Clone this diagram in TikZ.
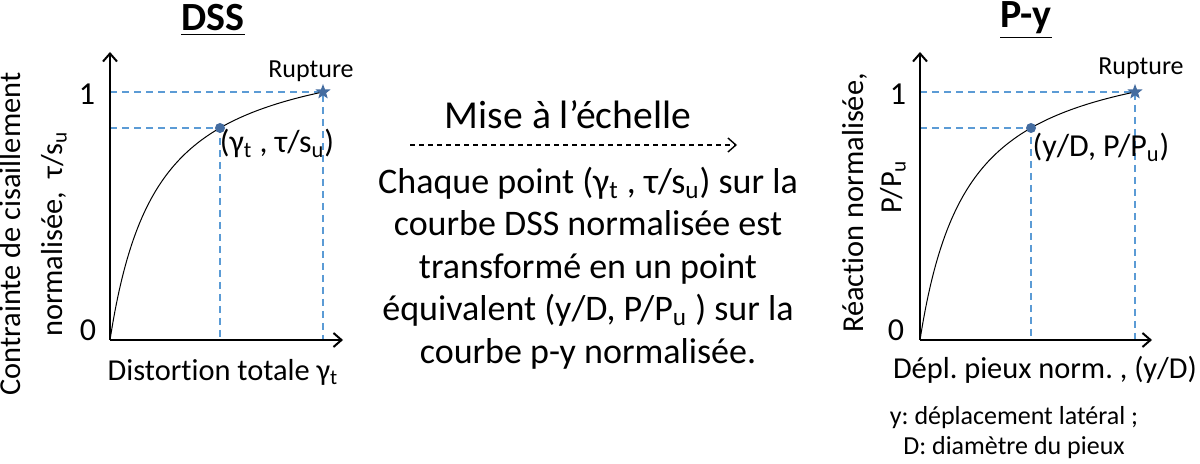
\documentclass[tikz,border=0pt]{standalone}
\usepackage{fontspec}
\setmainfont{Carlito}[Ligatures=NoCommon]
\usepackage{xcolor}
\usetikzlibrary{shapes.geometric,arrows.meta}
\definecolor{guideblue}{RGB}{91,155,213}
\definecolor{markblue}{RGB}{68,108,160}
\def\tsub#1{\textsubscript{#1}}
\frenchspacing
\tikzset{
  axis/.style={line width=1pt,-{Straight Barb[length=4pt,width=7pt]}},
  guide/.style={guideblue,line width=0.7pt,dash pattern=on 3.5pt off 2.5pt},
  dotmark/.style={circle,fill=markblue,inner sep=0pt,minimum size=5pt},
  starmark/.style={star,star points=5,star point ratio=2.4,fill=markblue,inner sep=0pt,minimum size=8pt},
  lbl/.style={font=\fontsize{15.2}{21}\selectfont},
  small/.style={font=\fontsize{13}{15}\selectfont},
  ptlbl/.style={font=\fontsize{16}{18}\selectfont},
  tick/.style={font=\fontsize{16}{18}\selectfont},
  title/.style={font=\fontsize{20}{22}\selectfont\bfseries,inner sep=1pt},
}

\begin{document}
\begin{tikzpicture}[x=0.5pt,y=-0.5pt]
    \useasboundingbox (0,0) rectangle (1200,464);
    % DSS chart
    \coordinate (o1) at (110,340);
    \coordinate (yt1) at (110,52);
    \coordinate (xt1) at (343,340);
    \coordinate (s1) at (323,92);
    \coordinate (p1) at (220,128);
    \draw[guide] (s1 -| o1) -- (s1) -- (s1 |- o1);
    \draw[guide] (p1 -| o1) -- (p1) -- (p1 |- o1);
    \draw[line width=0.5pt] plot[domain=0:1,samples=80,smooth]
      ({110+213*\x},{340-248*1.221*\x/(0.221+\x)});
    \draw[axis] (o1) -- (yt1);
    \draw[axis] (o1) -- (xt1);
    \node[dotmark] (pt1) at (p1) {};
    \node[starmark] (st1) at (s1) {};
    \node[title] (dss) at (213,20) {\underline{DSS}};
    \node[small] (rup1) at (311,71) {Rupture};
    \node[ptlbl] (pl1) at (277,143) {(γ\tsub{t} , τ/s\tsub{u})};
    \node[tick] (one1) at (87,94) {1};
    \node[tick] (zero1) at (88,330) {0};
    \node[lbl,rotate=90,align=center] (ylab1) at (33,234)
      {Contrainte de cisaillement\\normalisée,\ \ τ/s\tsub{u}};
    \node[lbl] (xlab1) at (223,372) {Distortion totale γ\tsub{t}};
    % scaling in the middle
    \coordinate (a0) at (410,145);
    \coordinate (a1) at (737,145);
    \node[font=\fontsize{19.8}{22}\selectfont] (mise) at (568,115) {Mise à l’échelle};
    \draw[line width=0.7pt,dash pattern=on 2.5pt off 2pt,-{Straight Barb[length=4pt,width=7pt]}] (a0) -- (a1);
    \node[font=\fontsize{18}{21.25}\selectfont,align=center] (expl) at (588,268)
      {Chaque point (γ\tsub{t} , τ/s\tsub{u}) sur la\\
       courbe DSS normalisée est\\
       transformé en un point\\
       équivalent (y/D, P/P\tsub{u} ) sur la\\
       courbe p-y normalisée.};
    % P-y chart
    \coordinate (o2) at (920,340);
    \coordinate (yt2) at (920,52);
    \coordinate (xt2) at (1152,340);
    \coordinate (s2) at (1135,92);
    \coordinate (p2) at (1031,128);
    \draw[guide] (s2 -| o2) -- (s2) -- (s2 |- o2);
    \draw[guide] (p2 -| o2) -- (p2) -- (p2 |- o2);
    \draw[line width=0.5pt] plot[domain=0:1,samples=80,smooth]
      ({920+215*\x},{340-248*1.221*\x/(0.221+\x)});
    \draw[axis] (o2) -- (yt2);
    \draw[axis] (o2) -- (xt2);
    \node[dotmark] (pt2) at (p2) {};
    \node[starmark] (st2) at (s2) {};
    \node[title] (py) at (1026,20) {\underline{P-y}};
    \node[small] (rup2) at (1141,68) {Rupture};
    \node[ptlbl] (pl2) at (1101,147) {(y/D, P/P\tsub{u})};
    \node[tick] (one2) at (898,94) {1};
    \node[tick] (zero2) at (896,330) {0};
    \node[lbl,rotate=90] (ylab2a) at (855,203) {Réaction normalisée,};
    \node[lbl,rotate=90] (ylab2b) at (893,187) {P/P\tsub{u}};
    \node[lbl] (xlab2) at (1045,370) {Dépl. pieux norm. , (y/D)};
    \node[small] (note1) at (1014,418) {y: déplacement latéral ;};
    \node[small] (note2) at (1014,448) {D: diamètre du pieux};
\end{tikzpicture}
\end{document}
